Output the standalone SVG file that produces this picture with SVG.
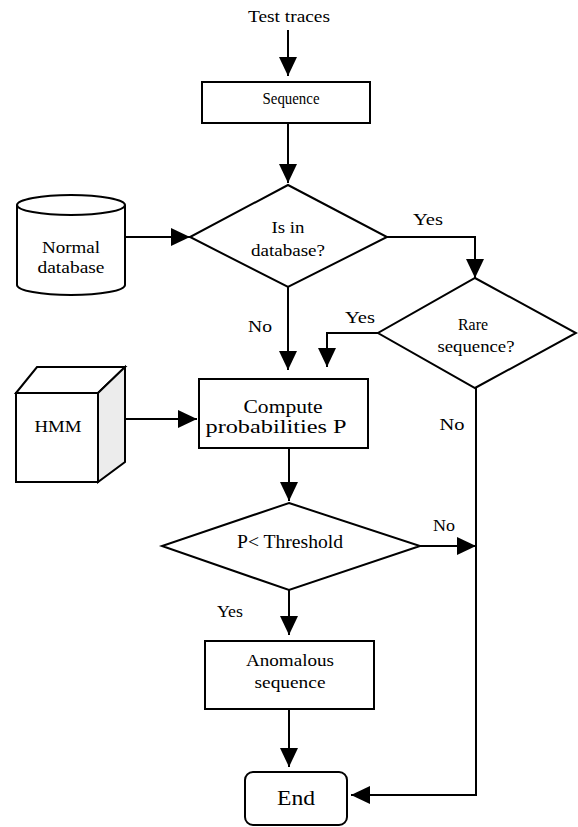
<svg xmlns="http://www.w3.org/2000/svg" width="578" height="827" viewBox="0 0 578 827">
<style>
.s{fill:#fff;stroke:#000;stroke-width:2;stroke-linejoin:miter}
.c{fill:none;stroke:#000;stroke-width:2}
text{font-family:"Liberation Serif","Times New Roman",serif;font-size:17px;fill:#000}
.m{text-anchor:middle}
</style>
<defs>
<marker id="ah" viewBox="0 0 19 18" refX="19" refY="9" markerWidth="19" markerHeight="18" markerUnits="userSpaceOnUse" orient="auto">
<path d="M0,0 L19,9 L0,18 z" fill="#000"/>
</marker>
</defs>
<rect width="578" height="827" fill="#fff"/>
<g id="connectors">
<path class="c" d="M288,30 V76" marker-end="url(#ah)"/>
<path class="c" d="M288,123 V183" marker-end="url(#ah)"/>
<path class="c" d="M125,237 H190" marker-end="url(#ah)"/>
<path class="c" d="M387,237 H475 V278" marker-end="url(#ah)"/>
<path class="c" d="M288,287 V370" marker-end="url(#ah)"/>
<path class="c" d="M378,333 H327 V367" marker-end="url(#ah)"/>
<path class="c" d="M110,419 H197" marker-end="url(#ah)"/>
<path class="c" d="M289,448 V501" marker-end="url(#ah)"/>
<path class="c" d="M420,546 H476" marker-end="url(#ah)"/>
<path class="c" d="M476,388 V795 H351" marker-end="url(#ah)"/>
<path class="c" d="M289,590 V635" marker-end="url(#ah)"/>
<path class="c" d="M289,709 V767" marker-end="url(#ah)"/>
</g>
<g id="labels">
<text x="289" y="22" class="m" textLength="82" lengthAdjust="spacingAndGlyphs">Test traces</text>
<text x="428" y="225" class="m" textLength="30" lengthAdjust="spacingAndGlyphs">Yes</text>
<text x="260" y="332" class="m" textLength="24" lengthAdjust="spacingAndGlyphs">No</text>
<text x="360" y="323" class="m" textLength="30" lengthAdjust="spacingAndGlyphs">Yes</text>
<text x="452" y="430" class="m" textLength="25" lengthAdjust="spacingAndGlyphs">No</text>
<text x="444" y="531" class="m" textLength="22" lengthAdjust="spacingAndGlyphs">No</text>
<text x="230" y="617" class="m" textLength="26" lengthAdjust="spacingAndGlyphs">Yes</text>
</g>
<g id="sequence">
<rect class="s" x="202" y="82" width="168" height="41"/>
<text x="291" y="104" class="m" style="font-size:17px" textLength="57" lengthAdjust="spacingAndGlyphs">Sequence</text>
</g>
<g id="normal-db">
<path class="s" d="M17,205 A54,10 0 0 1 125,205 V285 A54,10 0 0 1 17,285 Z"/>
<path class="c" d="M17,205 A54,10 0 0 0 125,205"/>
<text x="71" y="253" class="m" textLength="58" lengthAdjust="spacingAndGlyphs">Normal</text>
<text x="71" y="273" class="m" textLength="67" lengthAdjust="spacingAndGlyphs">database</text>
</g>
<g id="is-in-db">
<polygon class="s" points="288,185 387,237 288,287 190,237"/>
<text x="288" y="233" class="m" textLength="33" lengthAdjust="spacingAndGlyphs">Is in</text>
<text x="288" y="256" class="m" textLength="74" lengthAdjust="spacingAndGlyphs">database?</text>
</g>
<g id="rare">
<polygon class="s" points="475,278 576,333 475,388 378,333"/>
<text x="473" y="330" class="m" style="font-size:17px" textLength="30" lengthAdjust="spacingAndGlyphs">Rare</text>
<text x="476" y="352" class="m" textLength="77" lengthAdjust="spacingAndGlyphs">sequence?</text>
</g>
<g id="hmm">
<rect class="s" x="16" y="393" width="82" height="89"/>
<polygon class="s" points="16,393 37,367 125,367 98,393"/>
<polygon class="s" points="98,393 125,367 125,462 98,482" style="fill:#ececec"/>
<text x="58" y="432" class="m" textLength="47" lengthAdjust="spacingAndGlyphs">HMM</text>
</g>
<g id="compute">
<rect class="s" x="199" y="379" width="169" height="69"/>
<text x="283" y="413" class="m" style="font-size:19px" textLength="79" lengthAdjust="spacingAndGlyphs">Compute</text>
<text x="276" y="433" class="m" style="font-size:19px" textLength="141" lengthAdjust="spacingAndGlyphs">probabilities P</text>
</g>
<g id="threshold">
<polygon class="s" points="289,503 420,546 289,590 162,546"/>
<text x="290" y="548" class="m" style="font-size:18px" textLength="106" lengthAdjust="spacingAndGlyphs">P&lt; Threshold</text>
</g>
<g id="anomalous">
<rect class="s" x="205" y="641" width="169" height="68"/>
<text x="290" y="666" class="m" textLength="88" lengthAdjust="spacingAndGlyphs">Anomalous</text>
<text x="290" y="688" class="m" textLength="71" lengthAdjust="spacingAndGlyphs">sequence</text>
</g>
<g id="end">
<rect class="s" x="245" y="772" width="102" height="53" rx="8"/>
<text x="296" y="805" class="m" style="font-size:22px" textLength="38" lengthAdjust="spacingAndGlyphs">End</text>
</g>
</svg>
